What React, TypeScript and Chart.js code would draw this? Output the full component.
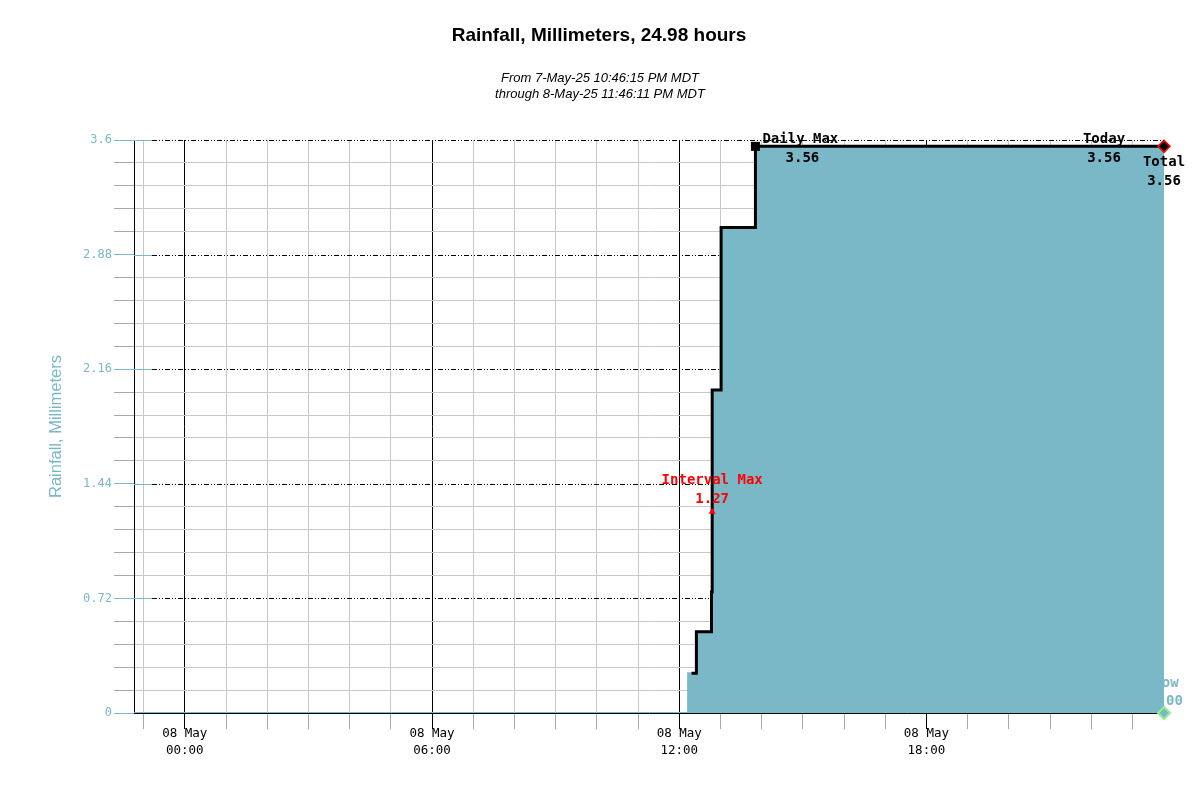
import React, { useEffect, useRef } from "react";
import { Chart, registerables } from "chart.js";

Chart.register(...registerables);

// ---- text ----
const TITLE = "Rainfall, Millimeters, 24.98 hours";
const SUBTITLE = ["From 7-May-25 10:46:15 PM MDT", "through 8-May-25 11:46:11 PM MDT"];
const Y_TITLE = "Rainfall, Millimeters";

// ---- data: accumulated rainfall (mm) by time ("DD hh:mm", May) ----
const areaTimes = ["07 22:46", "08 12:13", "08 12:25", "08 12:47", "08 12:48", "08 13:01", "08 13:51", "08 23:46"];
const areaTotals = [0, 0.25, 0.51, 0.76, 2.03, 3.05, 3.56, 3.56];
// outlined trace, starting once the gauge first tips
const traceTimes = ["08 12:18", "08 12:25", "08 12:47", "08 12:48", "08 13:01", "08 13:51", "08 23:46"];
const traceTotals = [0.25, 0.51, 0.76, 2.03, 3.05, 3.56, 3.56];

// ---- axes ----
const xRange = ["07 22:46", "08 23:46"];
const xTickDay = "08 May";
const xMajorEveryHours = 6;
const yMajorTicks = [0, 0.72, 1.44, 2.16, 2.88, 3.6];
const yMinorPerMajor = 5;

// ---- annotations ----
const intervalMax = { time: "08 12:48", value: 1.27 };
const dailyMax = { time: "08 13:51", value: 3.56 };
const todayTotal = 3.56;
const total = { time: "08 23:46", value: 3.56 };
const nowReading = { time: "08 23:46", value: 0.0 };

const TEAL = "#7ab8c8";
const MONO = "'DejaVu Sans Mono', monospace";
const SANS = "'Liberation Sans', Arial, sans-serif";

// minutes relative to 8 May 00:00
function toMin(s: string): number {
  const day = parseInt(s.slice(0, 2), 10);
  const [h, m] = s.slice(3).split(":").map((v) => parseInt(v, 10));
  return (day - 8) * 1440 + h * 60 + m;
}

const pad2 = (n: number) => (n < 10 ? "0" + n : String(n));

const yStep = yMajorTicks[1] / yMinorPerMajor;
const yTickCount = (yMajorTicks.length - 1) * yMinorPerMajor;

const overlay = {
  id: "rainOverlay",
  beforeDatasetsDraw(chart: any) {
    const { ctx, chartArea } = chart;
    const xs = chart.scales.x;
    const ys = chart.scales.y;
    ctx.save();
    // dash-dot-dot major lines + short teal inner ticks
    yMajorTicks.forEach((v, i) => {
      if (i === 0) return;
      const y = Math.round(ys.getPixelForValue(v)) + 0.5;
      ctx.beginPath();
      ctx.setLineDash([5, 2, 1, 2, 1, 2]);
      ctx.strokeStyle = "#000";
      ctx.lineWidth = 1;
      ctx.moveTo(chartArea.left + 18, y);
      ctx.lineTo(chartArea.right, y);
      ctx.stroke();
      ctx.setLineDash([]);
      ctx.beginPath();
      ctx.strokeStyle = TEAL;
      ctx.moveTo(chartArea.left, y);
      ctx.lineTo(chartArea.left + 18, y);
      ctx.stroke();
    });
    // current reading, partly hidden by the area
    const nx = xs.getPixelForValue(toMin(nowReading.time));
    const ny = ys.getPixelForValue(nowReading.value);
    ctx.fillStyle = TEAL;
    ctx.font = `bold 14px ${MONO}`;
    ctx.textAlign = "center";
    ctx.textBaseline = "middle";
    ctx.fillText("Now", nx + 2, ny - 30);
    ctx.fillText(nowReading.value.toFixed(2), nx + 2, ny - 12);
    ctx.restore();
  },
  afterDatasetsDraw(chart: any) {
    const { ctx, chartArea } = chart;
    const xs = chart.scales.x;
    const ys = chart.scales.y;
    ctx.save();
    ctx.textBaseline = "middle";

    // interval max
    const ix = xs.getPixelForValue(toMin(intervalMax.time));
    const iy = ys.getPixelForValue(intervalMax.value);
    ctx.fillStyle = "#ff0000";
    ctx.beginPath();
    ctx.moveTo(ix, iy - 3);
    ctx.lineTo(ix + 3.5, iy + 3);
    ctx.lineTo(ix - 3.5, iy + 3);
    ctx.closePath();
    ctx.fill();
    ctx.font = `bold 14px ${MONO}`;
    ctx.textAlign = "center";
    ctx.fillText("Interval Max", ix, iy - 30);
    ctx.fillText(intervalMax.value.toFixed(2), ix, iy - 11);

    // daily max
    const dx = xs.getPixelForValue(toMin(dailyMax.time));
    const dy = ys.getPixelForValue(dailyMax.value);
    ctx.fillStyle = "#000";
    ctx.fillRect(dx - 4.5, dy - 4.5, 9, 9);
    ctx.textAlign = "left";
    ctx.fillText("Daily Max", dx + 7, dy - 7);
    ctx.textAlign = "center";
    ctx.fillText(dailyMax.value.toFixed(2), dx + 47, dy + 12);

    // total and today
    const tx = xs.getPixelForValue(toMin(total.time));
    const ty = ys.getPixelForValue(total.value);
    ctx.fillText("Today", tx - 60, ty - 7);
    ctx.fillText(todayTotal.toFixed(2), tx - 60, ty + 12);
    ctx.fillText("Total", tx, ty + 16);
    ctx.fillText(total.value.toFixed(2), tx, ty + 35);
    ctx.beginPath();
    ctx.moveTo(tx, ty - 6);
    ctx.lineTo(tx + 6, ty);
    ctx.lineTo(tx, ty + 6);
    ctx.lineTo(tx - 6, ty);
    ctx.closePath();
    ctx.fillStyle = "#000";
    ctx.fill();
    ctx.strokeStyle = "#ff0000";
    ctx.lineWidth = 1.5;
    ctx.stroke();

    // now marker
    const nx = xs.getPixelForValue(toMin(nowReading.time));
    const ny = ys.getPixelForValue(nowReading.value);
    ctx.beginPath();
    ctx.moveTo(nx, ny - 6);
    ctx.lineTo(nx + 6, ny);
    ctx.lineTo(nx, ny + 6);
    ctx.lineTo(nx - 6, ny);
    ctx.closePath();
    ctx.fillStyle = TEAL;
    ctx.fill();
    ctx.strokeStyle = "#90ee90";
    ctx.lineWidth = 2;
    ctx.stroke();

    // titles
    ctx.fillStyle = "#000";
    ctx.textAlign = "center";
    ctx.font = `bold 19px ${SANS}`;
    ctx.fillText(TITLE, 599, 36);
    ctx.font = `italic 13px ${SANS}`;
    ctx.fillText(SUBTITLE[0], 600, 78);
    ctx.fillText(SUBTITLE[1], 600, 94);

    // y axis title
    ctx.save();
    ctx.translate(56, (chartArea.top + chartArea.bottom) / 2);
    ctx.rotate(-Math.PI / 2);
    ctx.fillStyle = TEAL;
    ctx.font = `16.5px ${SANS}`;
    ctx.fillText(Y_TITLE, 0, 0);
    ctx.restore();

    ctx.restore();
  },
};

export default function App() {
  const canvasRef = useRef<HTMLCanvasElement | null>(null);

  useEffect(() => {
    const canvas = canvasRef.current;
    if (!canvas) return;
    const xMin = toMin(xRange[0]);
    const xMax = toMin(xRange[1]);

    const chart = new Chart(canvas, {
      type: "line",
      data: {
        datasets: [
          {
            data: traceTimes.map((t, i) => ({ x: toMin(t), y: traceTotals[i] })),
            stepped: "before",
            borderColor: "#000",
            borderWidth: 3,
            pointRadius: 0,
            fill: false,
            order: 0,
          },
          {
            data: areaTimes.map((t, i) => ({ x: toMin(t), y: areaTotals[i] })),
            stepped: "before",
            borderColor: TEAL,
            borderWidth: 2,
            backgroundColor: TEAL,
            pointRadius: 0,
            fill: "origin",
            order: 1,
          },
        ],
      },
      options: {
        animation: false,
        responsive: false,
        maintainAspectRatio: false,
        layout: { padding: { left: 0, right: 36, top: 140, bottom: 0 } },
        plugins: {
          legend: { display: false },
          tooltip: { enabled: false },
          title: { display: false },
        },
        scales: {
          x: {
            type: "linear",
            min: xMin,
            max: xMax,
            afterBuildTicks: (scale: any) => {
              const ticks = [];
              for (let m = Math.ceil(xMin / 60) * 60; m <= xMax; m += 60) ticks.push({ value: m });
              scale.ticks = ticks;
            },
            afterFit: (scale: any) => {
              scale.height = 87;
            },
            grid: {
              color: (c: any) => (c.tick && c.tick.value % (xMajorEveryHours * 60) === 0 ? "#000" : "#c8c8c8"),
              tickColor: (c: any) => (c.tick && c.tick.value % (xMajorEveryHours * 60) === 0 ? "#000" : "#a8a8a8"),
              tickLength: 16,
              lineWidth: 1,
            },
            border: { display: true, color: "#000", width: 1 },
            ticks: {
              autoSkip: false,
              maxRotation: 0,
              padding: -3,
              color: "#000",
              font: { family: MONO, size: 12.5, lineHeight: 1.3 },
              callback: (value: any) => {
                const v = Number(value);
                if (v % (xMajorEveryHours * 60) !== 0) return "";
                return [xTickDay, pad2(Math.floor(v / 60)) + ":00"];
              },
            },
          },
          y: {
            min: 0,
            max: yMajorTicks[yMajorTicks.length - 1],
            afterBuildTicks: (scale: any) => {
              const ticks = [];
              for (let i = 0; i <= yTickCount; i++) ticks.push({ value: +(i * yStep).toFixed(4) });
              scale.ticks = ticks;
            },
            afterFit: (scale: any) => {
              scale.width = 134;
            },
            grid: {
              color: (c: any) => (c.index % yMinorPerMajor === 0 ? "rgba(0,0,0,0)" : "#c8c8c8"),
              tickColor: (c: any) => (c.index % yMinorPerMajor === 0 ? TEAL : "#a8a8a8"),
              tickLength: 20,
              lineWidth: 1,
            },
            border: { display: true, color: "#000", width: 1 },
            ticks: {
              autoSkip: false,
              padding: 2,
              color: TEAL,
              font: { family: MONO, size: 12 },
              callback: (_v: any, index: number) =>
                index % yMinorPerMajor === 0 ? String(yMajorTicks[index / yMinorPerMajor]) : "",
            },
          },
        },
      },
      plugins: [overlay],
    } as any);

    return () => chart.destroy();
  }, []);

  return (
    <div style={{ position: "fixed", left: 0, top: 0, width: 1200, height: 800, background: "#fff" }}>
      <canvas ref={canvasRef} width={1200} height={800} style={{ width: 1200, height: 800 }} />
    </div>
  );
}
